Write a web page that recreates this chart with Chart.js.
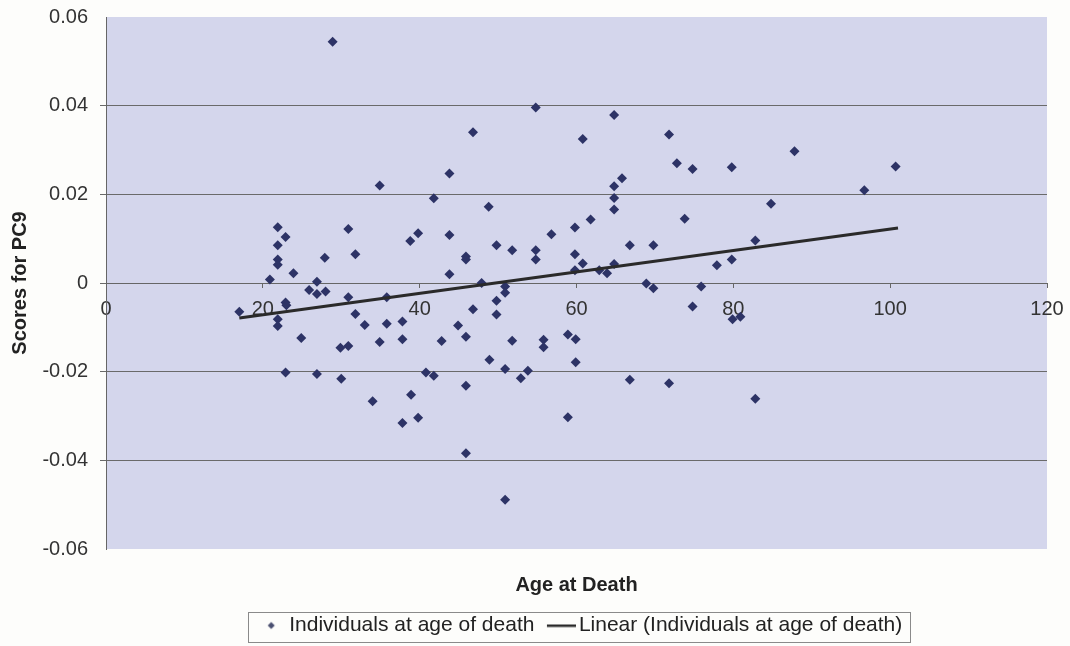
<!DOCTYPE html>
<html>
<head>
<meta charset="utf-8">
<script src="https://cdn.jsdelivr.net/npm/chart.js@4/dist/chart.umd.min.js"></script>
<style>
  html, body { margin: 0; padding: 0; background: #fdfdfb; }
  #wrap { width: 1070px; height: 646px; }
</style>
</head>
<body>
<div id="wrap"><canvas id="myChart"></canvas></div>
<script>
// ages and PC9 scores
const ages = [
  28.9, 34.9, 21.9, 22.9, 21.9, 21.9, 21.9, 20.9, 23.9, 27.9, 30.9, 31.8, 38.8, 39.8,
  26.9, 25.9, 26.9, 28.0, 22.9, 23.0, 17.0, 21.9, 21.9, 30.9, 35.8, 31.8, 33.0, 35.8,
  37.8, 24.9, 29.9, 30.9, 34.9, 37.8, 22.9, 26.9, 30.0, 40.8, 34.0, 38.9, 37.8, 39.8,
  54.8, 64.8, 46.8, 60.8, 71.8, 43.8, 72.8, 74.8, 79.8, 65.8, 64.8, 64.8, 64.8, 41.8,
  48.8, 61.8, 73.8, 59.8, 43.8, 56.8, 49.8, 51.8, 54.8, 54.8, 66.8, 69.8, 45.9, 45.9,
  59.8, 60.8, 43.8, 59.8, 62.9, 63.9, 64.8, 77.9, 79.8, 47.9, 50.9, 68.9, 69.8, 75.9,
  50.9, 49.8, 46.8, 49.8, 74.8, 79.9, 80.9, 44.9, 45.9, 42.8, 51.8, 55.8, 55.8, 58.9,
  59.9, 59.9, 48.9, 50.9, 52.9, 53.8, 41.8, 45.9, 66.8, 71.8, 58.9, 45.9, 50.9,
  87.8, 100.7, 96.7, 84.8, 82.8, 82.8
];
const scores = [
  0.0544, 0.0220, 0.0126, 0.0104, 0.0085, 0.0053, 0.0041, 0.0008, 0.0022, 0.0057, 0.0122, 0.0065, 0.0095, 0.0112,
  0.0003, -0.0016, -0.0025, -0.0019, -0.0044, -0.0050, -0.0065, -0.0082, -0.0097, -0.0032, -0.0032, -0.0070, -0.0095, -0.0092,
  -0.0087, -0.0124, -0.0146, -0.0142, -0.0133, -0.0127, -0.0202, -0.0205, -0.0216, -0.0202, -0.0267, -0.0252, -0.0316, -0.0304,
  0.0396, 0.0379, 0.0340, 0.0325, 0.0335, 0.0247, 0.0270, 0.0257, 0.0261, 0.0236, 0.0218, 0.0192, 0.0166, 0.0191,
  0.0172, 0.0143, 0.0145, 0.0125, 0.0108, 0.0110, 0.0085, 0.0074, 0.0074, 0.0053, 0.0085, 0.0085, 0.0060, 0.0053,
  0.0065, 0.0044, 0.0020, 0.0029, 0.0029, 0.0022, 0.0043, 0.0040, 0.0053, 0.0000, -0.0008, -0.0001, -0.0012, -0.0008,
  -0.0022, -0.0040, -0.0059, -0.0071, -0.0053, -0.0082, -0.0076, -0.0096, -0.0121, -0.0131, -0.0130, -0.0128, -0.0145, -0.0116,
  -0.0127, -0.0179, -0.0173, -0.0194, -0.0215, -0.0198, -0.0209, -0.0232, -0.0218, -0.0226, -0.0303, -0.0384, -0.0489,
  0.0297, 0.0263, 0.0209, 0.0179, 0.0096, -0.0261
];
// end points of the linear trend line
const trendAges = [17, 101];
const trendScores = [-0.0079, 0.0124];

const xTicks = [0, 20, 40, 60, 80, 100, 120];
const yTicks = [-0.06, -0.04, -0.02, 0, 0.02, 0.04, 0.06];

const font = 'Arial, "Liberation Sans", sans-serif';
const pointColor = '#2d3366';

// little canvases for the legend symbols
const diamond = document.createElement('canvas');
diamond.width = 23; diamond.height = 12;
let c = diamond.getContext('2d');
c.fillStyle = '#4a4f70';
c.beginPath();
c.moveTo(18, 2.5); c.lineTo(21.5, 6); c.lineTo(18, 9.5); c.lineTo(14.5, 6);
c.closePath(); c.fill();

const lineIcon = document.createElement('canvas');
lineIcon.width = 43; lineIcon.height = 6;
c = lineIcon.getContext('2d');
c.fillStyle = '#2a2a2a';
c.fillRect(14, 2, 29, 2.5);

const noPad = s => { s.paddingTop = 0; s.paddingBottom = 0; s.paddingLeft = 0; s.paddingRight = 0; };

const plotBg = {
  id: 'plotBg',
  beforeDraw(chart) {
    const {ctx, chartArea: a} = chart;
    ctx.save();
    ctx.fillStyle = '#d4d6ec';
    ctx.fillRect(a.left, a.top, a.right - a.left, a.bottom - a.top);
    ctx.restore();
  },
  afterDraw(chart) {
    const boxes = chart.legend.legendHitBoxes;
    if (!boxes.length) return;
    const {ctx} = chart;
    const l = Math.min(...boxes.map(b => b.left));
    const r = Math.max(...boxes.map(b => b.left + b.width));
    const t = boxes[0].top;
    const h = boxes[0].height;
    ctx.save();
    ctx.strokeStyle = '#8a8a8a';
    ctx.lineWidth = 1;
    ctx.strokeRect(Math.round(l) - 2.5, Math.round(t) - 2.5, Math.round(r - l) + 10, h + 9);
    ctx.restore();
  }
};

new Chart('myChart', {
  data: {
    datasets: [
      {
        type: 'scatter',
        label: 'Individuals at age of death',
        data: ages.map((a, i) => ({x: a, y: scores[i]})),
        pointStyle: 'rectRot',
        pointRadius: 5,
        backgroundColor: pointColor,
        borderColor: pointColor,
        borderWidth: 0,
        order: 2
      },
      {
        type: 'line',
        label: 'Linear (Individuals at age of death)',
        data: trendAges.map((a, i) => ({x: a, y: trendScores[i]})),
        borderColor: '#2a2a2a',
        borderWidth: 3,
        pointRadius: 0,
        fill: false,
        order: 1
      }
    ]
  },
  options: {
    responsive: true,
    maintainAspectRatio: false,
    animation: false,
    layout: { padding: { top: 17, right: 23, left: 0, bottom: 0 } },
    plugins: {
      tooltip: { enabled: false },
      legend: {
        position: 'bottom',
        fullSize: false,
        labels: {
          usePointStyle: true,
          pointStyleWidth: 28,
          padding: 6,
          color: '#222',
          font: { family: font, size: 21 },
          generateLabels: chart => chart.data.datasets.map((d, i) => ({
            text: d.label,
            pointStyle: i === 0 ? diamond : lineIcon,
            fillStyle: 'transparent',
            strokeStyle: 'transparent',
            lineWidth: 0,
            hidden: false,
            datasetIndex: i,
            fontColor: '#222'
          }))
        }
      }
    },
    scales: {
      x: {
        type: 'linear',
        position: { y: 0 },
        min: 0,
        max: 120,
        afterBuildTicks: s => { s.ticks = xTicks.map(v => ({value: v})); },
        afterFit: noPad,
        ticks: { color: '#333', padding: 10, font: { family: font, size: 20 } },
        grid: { drawOnChartArea: false, tickLength: 4, color: '#666' },
        border: { color: '#666' }
      },
      x2: {
        type: 'linear',
        axis: 'x',
        position: 'bottom',
        min: 0,
        max: 120,
        ticks: { display: false },
        grid: { display: false },
        border: { display: false },
        afterFit: s => { noPad(s); s.height = 60; },
        title: {
          display: true,
          text: 'Age at Death',
          color: '#222',
          padding: { top: 0, bottom: 12 },
          font: { family: font, size: 20, weight: 'bold' }
        }
      },
      y: {
        type: 'linear',
        min: -0.06,
        max: 0.06,
        afterBuildTicks: s => { s.ticks = yTicks.map(v => ({value: v})); },
        afterFit: s => { noPad(s); s.width = 106; },
        ticks: {
          color: '#333',
          padding: 12,
          font: { family: font, size: 20 },
          callback: v => String(Math.round(v * 100) / 100)
        },
        grid: {
          tickLength: 6,
          color: ctx => Math.abs(ctx.tick.value) > 0.05 ? 'rgba(0,0,0,0)' : '#6a6a6a'
        },
        border: { color: '#666' },
        title: {
          display: true,
          text: 'Scores for PC9',
          color: '#222',
          padding: { top: 8, bottom: 0 },
          font: { family: font, size: 20, weight: 'bold' }
        }
      }
    }
  },
  plugins: [plotBg]
});
</script>
</body>
</html>
